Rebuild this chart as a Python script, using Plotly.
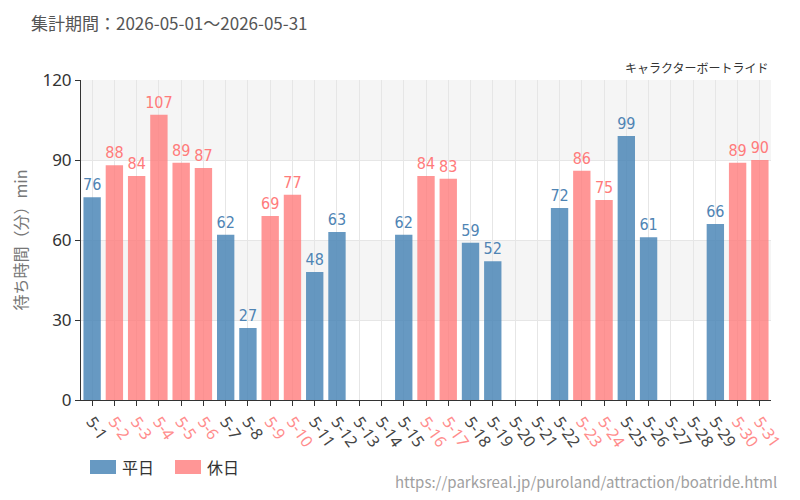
import plotly.graph_objects as go

days = [f"5-{d}" for d in range(1, 32)]
values = [76, 88, 84, 107, 89, 87, 62, 27, 69, 77, 48, 63, None, None, 62, 84, 83, 59, 52,
          None, None, 72, 86, 75, 99, 61, None, None, 66, 89, 90]
holidays = [2, 3, 4, 5, 6, 9, 10, 16, 17, 23, 24, 30, 31]
y_ticks = [0, 30, 60, 90, 120]

BLUE = "rgba(70,130,180,0.82)"
PINK = "rgba(255,120,120,0.78)"
BLUE_T = "#4f84b4"
PINK_T = "#ff7b7b"
PINK_TICK = "#ff8c8c"

is_hol = [(i + 1) in holidays for i in range(31)]
wk_vals = [v if not h else None for v, h in zip(values, is_hol)]
ho_vals = [v if h else None for v, h in zip(values, is_hol)]

label_font = dict(family="DejaVu Sans Condensed, sans-serif", size=16)

fig = go.Figure()
fig.add_trace(go.Bar(x=days, y=wk_vals, name="平日", marker=dict(color=BLUE, line=dict(width=0)),
                     text=[str(v) if v is not None else "" for v in wk_vals], textposition="outside",
                     constraintext="none",
                     textfont=dict(color=BLUE_T, **label_font), cliponaxis=False, width=0.78))
fig.add_trace(go.Bar(x=days, y=ho_vals, name="休日", marker=dict(color=PINK, line=dict(width=0)),
                     text=[str(v) if v is not None else "" for v in ho_vals], textposition="outside",
                     constraintext="none",
                     textfont=dict(color=PINK_T, **label_font), cliponaxis=False, width=0.78))

shapes = []
for lo, hi in [(30, 60), (90, 120)]:
    shapes.append(dict(type="rect", xref="paper", yref="y", x0=0, x1=1, y0=lo, y1=hi,
                       fillcolor="#f5f5f5", line=dict(width=0), layer="below"))

# manual legend swatches (paper coords, styling only)
PW, PH = 690.0, 320.0
def px_x(x):
    return (x - 81) / PW
def px_y(y):
    return (400 - y) / PH

annotations = [
    dict(text="集計期間：2026-05-01～2026-05-31", xref="paper", yref="paper", x=px_x(29), y=px_y(22),
         xanchor="left", yanchor="middle", showarrow=False,
         font=dict(size=17, color="#555")),
    dict(text="キャラクターボートライド", xref="paper", yref="paper", x=1.0, y=px_y(68),
         xanchor="right", yanchor="middle", showarrow=False,
         font=dict(size=12, color="#333")),
    dict(text="https://parksreal.jp/puroland/attraction/boatride.html", xref="paper", yref="paper",
         x=px_x(779), y=px_y(481), xanchor="right", yanchor="middle", showarrow=False,
         font=dict(size=15, color="#a0a0a0")),
]
for name, col, x0 in [("平日", BLUE, 90), ("休日", PINK, 175)]:
    shapes.append(dict(type="rect", xref="paper", yref="paper",
                       x0=px_x(x0), x1=px_x(x0 + 26), y0=px_y(474), y1=px_y(460),
                       fillcolor=col, line=dict(width=0)))
    annotations.append(dict(text=name, xref="paper", yref="paper", x=px_x(x0 + 30), y=px_y(467),
                            xanchor="left", yanchor="middle", showarrow=False,
                            font=dict(size=16, color="#333")))

ticktext = [f'<span style="color:{PINK_TICK if h else "#444"}">{d}</span>' for d, h in zip(days, is_hol)]

fig.update_layout(
    width=800, height=500,
    margin=dict(l=81, r=29, t=80, b=100, autoexpand=False),
    paper_bgcolor="white", plot_bgcolor="white",
    barmode="overlay",
    font=dict(family="Noto Sans CJK JP, sans-serif", color="#555"),
    shapes=shapes,
    annotations=annotations,
    showlegend=False,
    xaxis=dict(tickmode="array", tickvals=days, ticktext=ticktext, tickangle=55,
               showgrid=True, gridcolor="#e6e6e6", gridwidth=1, automargin=False,
               showline=True, linecolor="#333", linewidth=1, ticks="outside", ticklen=5,
               tickcolor="#333", tickfont=dict(size=16, family="Noto Sans, sans-serif"),
               range=[-0.5, 30.5]),
    yaxis=dict(range=[0, 120], tickvals=y_ticks, showgrid=True, gridcolor="#e6e6e6",
               showline=True, linecolor="#333", linewidth=1, ticks="outside", ticklen=5,
               tickcolor="#333", tickfont=dict(size=17, color="#333", family="Noto Sans, sans-serif"),
               zeroline=False, automargin=False,
               title=dict(text="待ち時間（分）min", font=dict(size=16, color="#777"), standoff=10)),
)

fig.write_html("out.html")
